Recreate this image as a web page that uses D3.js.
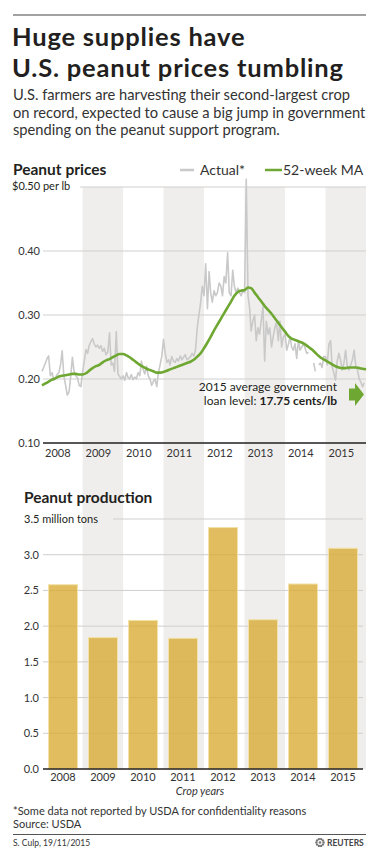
<!DOCTYPE html>
<html>
<head>
<meta charset="utf-8">
<script src="https://cdn.jsdelivr.net/npm/d3@7"></script>
<style>
body { margin: 0; background: #fff; }
svg { display: block; font-family: Lato, "Open Sans", sans-serif; }
</style>
</head>
<body>
<svg id="chart" width="372" height="851"></svg>
<script>
// ---- data ----
var cropYears = ["2008", "2009", "2010", "2011", "2012", "2013", "2014", "2015"];
var production = [2.58, 1.84, 2.08, 1.83, 3.38, 2.09, 2.59, 3.09];   // million tons
var productionTicks = [0, 0.5, 1.0, 1.5, 2.0, 2.5, 3.0, 3.5];
var priceTicks = [0.10, 0.20, 0.30, 0.40, 0.50];                     // $ per lb

// actual price, two readings a month from Jan 2008 (null = not reported)
var actualPrice = [
  0.212,0.218,0.225,0.232,0.236,0.205,0.21,0.198,0.202,0.207,0.21,0.222,0.244,0.205,0.19,0.175,0.18,0.205,0.234,0.212,0.205,0.202,0.19,0.188,
  0.21,0.228,0.246,0.24,0.252,0.258,0.263,0.255,0.25,0.253,0.248,0.252,0.243,0.248,0.238,0.242,0.272,0.222,0.225,0.212,0.274,0.208,0.204,0.2,
  0.205,0.198,0.21,0.202,0.2,0.207,0.199,0.203,0.2,0.21,0.205,0.228,0.215,0.208,0.22,0.205,0.2,0.19,0.196,0.2,0.188,0.21,0.222,0.235,
  0.262,0.24,0.226,0.23,0.222,0.235,0.228,0.226,0.232,0.228,0.236,0.23,0.234,0.238,0.23,0.232,0.235,0.24,0.236,0.245,0.28,0.3,0.318,0.345,
  0.33,0.38,0.31,0.368,0.335,0.32,0.338,0.33,0.335,0.35,0.345,0.33,0.36,0.35,0.397,0.335,0.33,0.37,0.345,0.335,0.342,0.335,0.33,0.338,
  0.335,0.512,0.33,0.31,0.275,0.29,0.3,0.26,0.28,0.27,0.292,0.313,0.228,0.29,0.27,0.28,0.25,0.266,0.28,0.289,0.26,0.29,0.25,0.265,
  0.27,0.245,0.255,0.266,0.25,0.245,0.255,0.232,0.26,0.245,0.25,0.255,0.248,0.24,0.242,null,null,0.225,0.212,null,0.222,0.225,0.218,0.235,
  0.235,0.222,0.255,0.26,0.22,0.21,0.198,0.228,0.24,0.23,0.214,0.225,0.245,0.22,0.214,0.222,0.23,0.245,0.22,0.214,0.2,0.195,0.188,0.194
];

// 52-week moving average, monthly from Jan 2008
var maPrice = [
  0.190,0.193,0.196,0.199,0.201,0.204,0.205,0.206,0.207,0.208,0.208,0.207,
  0.207,0.209,0.213,0.217,0.220,0.222,0.226,0.229,0.231,0.234,0.237,0.239,
  0.239,0.237,0.234,0.230,0.226,0.222,0.219,0.216,0.214,0.212,0.210,0.210,
  0.211,0.213,0.215,0.217,0.219,0.221,0.223,0.225,0.227,0.230,0.235,0.240,
  0.248,0.257,0.266,0.276,0.285,0.294,0.303,0.312,0.321,0.330,0.336,0.338,
  0.339,0.343,0.342,0.335,0.328,0.321,0.314,0.308,0.302,0.295,0.288,0.281,
  0.274,0.267,0.263,0.261,0.259,0.257,0.254,0.250,0.246,0.241,0.236,0.232,
  0.229,0.226,0.223,0.220,0.218,0.217,0.217,0.218,0.218,0.218,0.217,0.216,
  0.215
];

var svg = d3.select("#chart");
var ink = "#231f20", grey = "#333";

// header
svg.append("line").attr("x1", 13).attr("x2", 366).attr("y1", 15).attr("y2", 15)
    .attr("stroke", "#444").attr("stroke-width", 1);
var title = svg.append("text").style("font-size", "25.5px").style("font-weight", "bold")
    .style("letter-spacing", "0.8px").attr("fill", ink);
title.append("tspan").attr("x", 12).attr("y", 46).text("Huge supplies have");
title.append("tspan").attr("x", 12).attr("y", 77).text("U.S. peanut prices tumbling");
var sub = svg.append("text").style("font-size", "14.7px").attr("fill", grey);
["U.S. farmers are harvesting their second-largest crop",
 "on record, expected to cause a big jump in government",
 "spending on the peanut support program."].forEach(function(t, i) {
    sub.append("tspan").attr("x", 13).attr("y", 100 + i * 17.5).text(t);
});

// scales
var x = d3.scaleTime()
    .domain([new Date(2008, 0, 1), new Date(2016, 0, 1)])
    .range([42, 366]);
var y = d3.scaleLinear().domain([0.10, 0.50]).range([443, 187]);
var xb = d3.scaleBand().domain(cropYears).range([43, 363])
    .paddingInner(0.275).paddingOuter(0.1375);
var yb = d3.scaleLinear().domain([0, 3.5]).range([769, 519]);

// alternate year bands, running through both charts
svg.append("g").selectAll("rect")
    .data(cropYears.filter(function(d, i) { return i % 2 == 1; }))
    .enter().append("rect")
    .attr("x", function(d) { return x(new Date(+d, 0, 1)); })
    .attr("width", function(d) { return x(new Date(+d + 1, 0, 1)) - x(new Date(+d, 0, 1)); })
    .attr("y", 187).attr("height", 769 - 187)
    .attr("fill", "#f0eeed");

// ---- price chart ----
svg.append("text").attr("x", 13).attr("y", 175).text("Peanut prices")
    .style("font-size", "15.5px").style("font-weight", "bold").attr("fill", ink);

var legend = svg.append("g").style("font-size", "14px").attr("fill", grey);
legend.append("line").attr("x1", 180).attr("x2", 194).attr("y1", 170).attr("y2", 170)
    .attr("stroke", "#c9c9c9").attr("stroke-width", 2.5);
legend.append("text").attr("x", 200).attr("y", 175).text("Actual*");
legend.append("line").attr("x1", 265).attr("x2", 282).attr("y1", 170).attr("y2", 170)
    .attr("stroke", "#6ea832").attr("stroke-width", 2.5);
legend.append("text").attr("x", 283).attr("y", 175).text("52-week MA");

var pgrid = svg.append("g");
pgrid.selectAll("line").data(priceTicks.slice(1, 4)).enter().append("line")
    .attr("x1", 43).attr("x2", 366)
    .attr("y1", function(d) { return y(d); }).attr("y2", function(d) { return y(d); })
    .attr("stroke", "#cfcfcf").attr("stroke-width", 1);
pgrid.append("line").attr("x1", 80).attr("x2", 366)
    .attr("y1", y(0.50)).attr("y2", y(0.50))
    .attr("stroke", "#cfcfcf").attr("stroke-width", 1);
pgrid.selectAll("text").data(priceTicks.slice(0, 4)).enter().append("text")
    .attr("x", 40).attr("y", function(d) { return y(d) + 4; })
    .attr("text-anchor", "end").style("font-size", "11px").attr("fill", grey)
    .text(function(d) { return d3.format(".2f")(d); });
pgrid.append("text").attr("x", 12).attr("y", y(0.50) + 3).text("$0.50 per lb")
    .style("font-size", "11px").attr("fill", ink);

var actualData = actualPrice.map(function(v, i) {
    return { date: new Date(2008, Math.floor(i / 2), i % 2 ? 16 : 1), value: v };
});
var maData = maPrice.map(function(v, i) {
    return { date: new Date(2008, i, 1), value: v };
});

svg.append("path").datum(actualData)
    .attr("fill", "none").attr("stroke", "#c9c9c9").attr("stroke-width", 1.6)
    .attr("stroke-linejoin", "round")
    .attr("d", d3.line()
        .defined(function(d) { return d.value != null; })
        .x(function(d) { return x(d.date); })
        .y(function(d) { return y(d.value); }));

svg.append("path").datum(maData)
    .attr("fill", "none").attr("stroke", "#6ea832").attr("stroke-width", 2.6)
    .attr("d", d3.line().curve(d3.curveMonotoneX)
        .x(function(d) { return x(d.date); })
        .y(function(d) { return y(d.value); }));

svg.append("line").attr("x1", 43).attr("x2", 366)
    .attr("y1", y(0.10)).attr("y2", y(0.10))
    .attr("stroke", ink).attr("stroke-width", 1.5);

svg.append("g").selectAll("text").data(cropYears).enter().append("text")
    .attr("x", function(d) { return x(new Date(+d, 0, 1)) + 3; })
    .attr("y", 457).style("font-size", "11px").attr("fill", grey)
    .text(function(d) { return d; });

// loan level note
var note = svg.append("text").style("font-size", "12px").attr("fill", ink)
    .attr("text-anchor", "end");
note.append("tspan").attr("x", 337).attr("y", 391).text("2015 average government");
note.append("tspan").attr("x", 337).attr("y", 405).text("loan level: ");
note.append("tspan").style("font-weight", "bold").text("17.75 cents/lb");

svg.append("path")
    .attr("d", d3.line()([[349, 388.5], [355, 388.5], [355, 383], [364, 394.5],
                          [355, 406], [355, 400.5], [349, 400.5]]) + "Z")
    .attr("fill", "#6ea832");

// ---- production chart ----
svg.append("text").attr("x", 24).attr("y", 503).text("Peanut production")
    .style("font-size", "15.5px").style("font-weight", "bold").attr("fill", ink);

var bgrid = svg.append("g");
bgrid.selectAll("line").data(productionTicks.slice(1, 7)).enter().append("line")
    .attr("x1", 43).attr("x2", 363)
    .attr("y1", function(d) { return yb(d); }).attr("y2", function(d) { return yb(d); })
    .attr("stroke", "#cfcfcf").attr("stroke-width", 1);
bgrid.append("line").attr("x1", 113).attr("x2", 363)
    .attr("y1", yb(3.5)).attr("y2", yb(3.5))
    .attr("stroke", "#cfcfcf").attr("stroke-width", 1);
bgrid.selectAll("text").data(productionTicks.slice(0, 7)).enter().append("text")
    .attr("x", 39).attr("y", function(d) { return yb(d) + 4; })
    .attr("text-anchor", "end").style("font-size", "11px").attr("fill", grey)
    .text(function(d) { return d3.format(".1f")(d); });
bgrid.append("text").attr("x", 24).attr("y", yb(3.5) + 4).text("3.5 million tons")
    .style("font-size", "11px").attr("fill", ink);

svg.append("g").selectAll("rect")
    .data(cropYears.map(function(d, i) { return { year: d, value: production[i] }; }))
    .enter().append("rect")
    .attr("x", function(d) { return xb(d.year); })
    .attr("width", xb.bandwidth())
    .attr("y", function(d) { return yb(d.value); })
    .attr("height", function(d) { return yb(0) - yb(d.value); })
    .attr("fill", "#d8ab33").attr("fill-opacity", 0.78)
    .attr("stroke", "#f2e2a6").attr("stroke-width", 1);

svg.append("line").attr("x1", 43).attr("x2", 363)
    .attr("y1", yb(0)).attr("y2", yb(0))
    .attr("stroke", ink).attr("stroke-width", 1.5);

svg.append("g").selectAll("text").data(cropYears).enter().append("text")
    .attr("x", function(d) { return xb(d) + xb.bandwidth() / 2; })
    .attr("y", 781).attr("text-anchor", "middle")
    .style("font-size", "11px").attr("fill", grey)
    .text(function(d) { return d; });
svg.append("text").attr("x", 200).attr("y", 795).attr("text-anchor", "middle")
    .style("font-size", "11px").style("font-style", "italic").attr("fill", grey)
    .text("Crop years");

// footer
var foot = svg.append("text").style("font-size", "11px").attr("fill", grey);
foot.append("tspan").attr("x", 13).attr("y", 815)
    .text("*Some data not reported by USDA for confidentiality reasons");
foot.append("tspan").attr("x", 13).attr("y", 828).text("Source: USDA");
svg.append("line").attr("x1", 13).attr("x2", 366).attr("y1", 834.5).attr("y2", 834.5)
    .attr("stroke", "#555").attr("stroke-width", 1);
svg.append("text").attr("x", 13).attr("y", 846).style("font-size", "8.5px").attr("fill", grey)
    .text("S. Culp, 19/11/2015");

// reuters mark
var logo = svg.append("g").attr("transform", "translate(320,842.5)");
logo.append("circle").attr("r", 1.3).attr("fill", "#777");
d3.range(10).forEach(function(k) {
    var a = k / 10 * 2 * Math.PI;
    logo.append("circle").attr("cx", 3.6 * Math.cos(a)).attr("cy", 3.6 * Math.sin(a))
        .attr("r", 1.2).attr("fill", "#777");
});
svg.append("text").attr("x", 327).attr("y", 846).text("REUTERS")
    .style("font-size", "8.5px").style("font-weight", "bold").attr("fill", "#444");
</script>
</body>
</html>
